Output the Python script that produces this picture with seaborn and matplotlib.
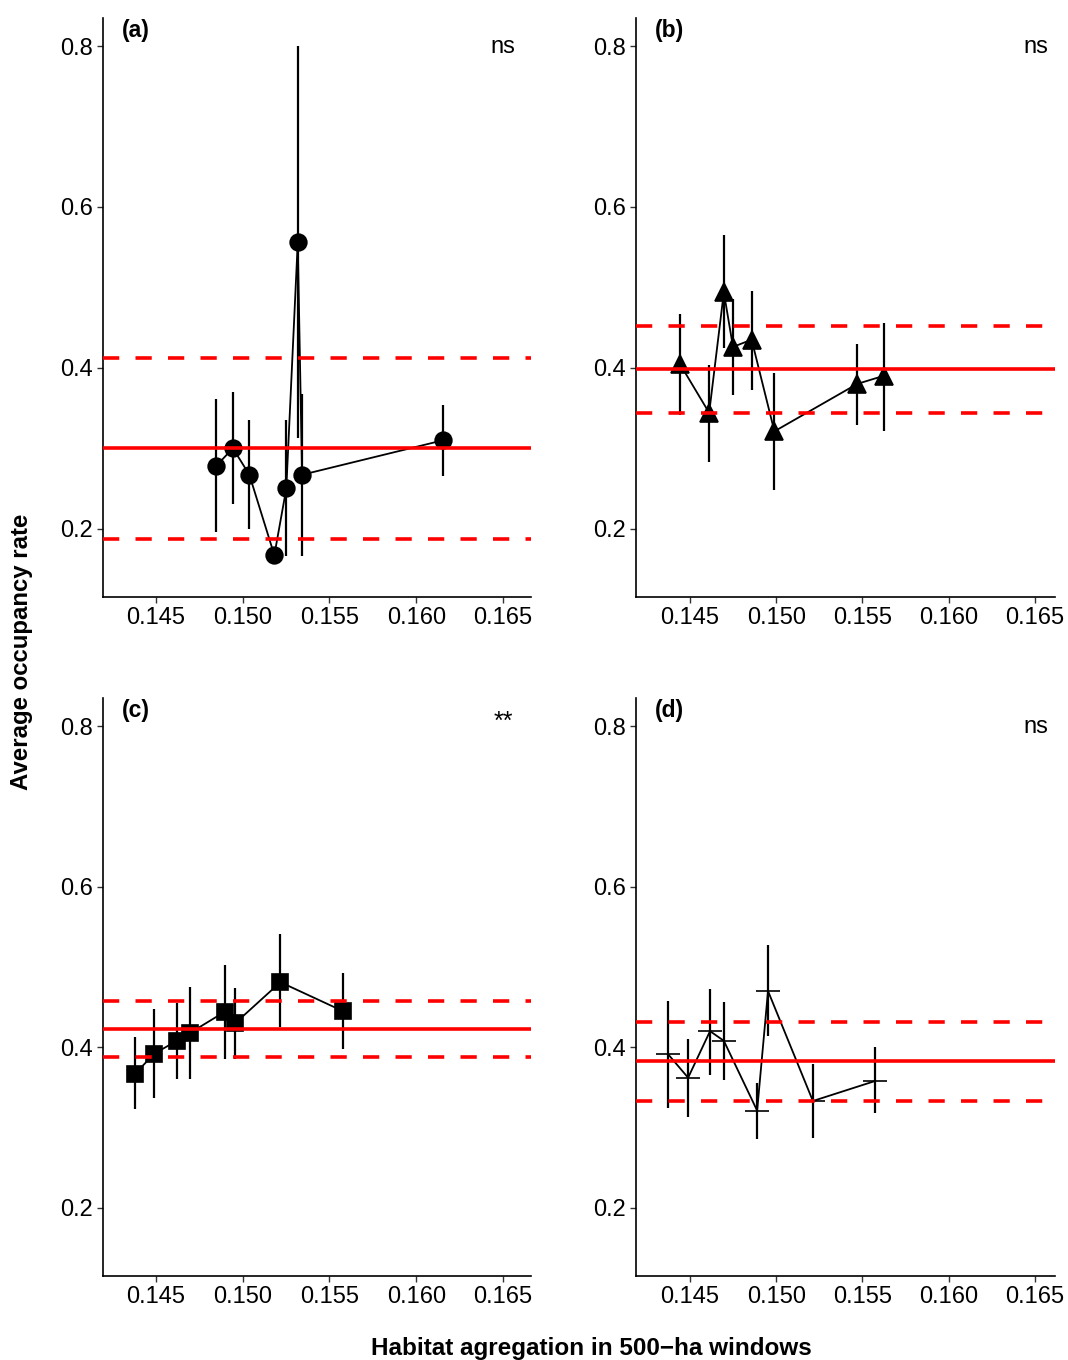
import matplotlib
matplotlib.use("Agg")
import matplotlib.pyplot as plt
import pandas as pd
import seaborn as sns

# panel (a) - circles
a_x = [0.14847, 0.14943, 0.15038, 0.15182, 0.15251, 0.15317, 0.15342, 0.16157]
a_y = [0.278, 0.300, 0.267, 0.167, 0.250, 0.556, 0.267, 0.310]
a_lo = [0.196, 0.231, 0.199, 0.160, 0.166, 0.313, 0.166, 0.266]
a_hi = [0.361, 0.370, 0.335, 0.172, 0.335, 0.800, 0.368, 0.354]
a_ref = [0.300, 0.187, 0.412]

# panel (b) - triangles
b_x = [0.14442, 0.14612, 0.14697, 0.14750, 0.14858, 0.14990, 0.15470, 0.15623]
b_y = [0.405, 0.344, 0.494, 0.426, 0.435, 0.321, 0.380, 0.390]
b_lo = [0.341, 0.283, 0.425, 0.366, 0.372, 0.248, 0.329, 0.322]
b_hi = [0.467, 0.403, 0.565, 0.485, 0.496, 0.393, 0.429, 0.456]
b_ref = [0.399, 0.344, 0.452]

# panel (c) - squares
c_x = [0.14379, 0.14490, 0.14620, 0.14697, 0.14895, 0.14957, 0.15217, 0.15577]
c_y = [0.367, 0.392, 0.408, 0.418, 0.444, 0.430, 0.481, 0.445]
c_lo = [0.323, 0.337, 0.360, 0.360, 0.385, 0.385, 0.425, 0.398]
c_hi = [0.413, 0.447, 0.455, 0.475, 0.502, 0.474, 0.541, 0.493]
c_ref = [0.423, 0.388, 0.458]

# panel (d) - plus
d_x = [0.14375, 0.14490, 0.14617, 0.14697, 0.14890, 0.14953, 0.15213, 0.15575]
d_y = [0.391, 0.362, 0.420, 0.408, 0.321, 0.470, 0.333, 0.358]
d_lo = [0.324, 0.313, 0.366, 0.359, 0.286, 0.414, 0.287, 0.318]
d_hi = [0.458, 0.410, 0.473, 0.456, 0.355, 0.527, 0.379, 0.400]
d_ref = [0.383, 0.333, 0.432]

panels = [
    ("(a)", "ns", a_x, a_y, a_lo, a_hi, a_ref, "o", 12),
    ("(b)", "ns", b_x, b_y, b_lo, b_hi, b_ref, "^", 13),
    ("(c)", "**", c_x, c_y, c_lo, c_hi, c_ref, "s", 11),
    ("(d)", "ns", d_x, d_y, d_lo, d_hi, d_ref, "+", 17),
]

sns.set_theme(style="ticks")
plt.rcParams["font.family"] = ["Liberation Sans", "DejaVu Sans"]
plt.rcParams["text.color"] = "black"
plt.rcParams["xtick.labelcolor"] = "black"
plt.rcParams["ytick.labelcolor"] = "black"

W, H = 1068, 1360
fig = plt.figure(figsize=(W / 100, H / 100), dpi=100)

# axes boxes in pixels: left, top, right, bottom
boxes = [(103, 18, 531, 597), (636, 18, 1055, 597),
         (103, 698, 531, 1276), (636, 698, 1055, 1276)]
xlims = [(0.14194, 0.16662), (0.14188, 0.16616), (0.14194, 0.16662), (0.14188, 0.16616)]
# label (x left, y centre) and significance (x right, y centre) in pixels
lab_pos = [(122, 31), (655, 31), (122, 711), (655, 711)]
sig_pos = [(515, 47), (1048, 47), (513, 722), (1048, 727)]

for (lab, sig, xs, ys, lo, hi, ref, mk, ms), (l, t, r, b), xl, lp, sp in zip(
        panels, boxes, xlims, lab_pos, sig_pos):
    ax = fig.add_axes([l / W, 1 - b / H, (r - l) / W, (b - t) / H])
    df = pd.DataFrame({"x": xs, "y": ys})
    ax.vlines(xs, lo, hi, color="black", lw=1.6, zorder=2)
    sns.lineplot(data=df, x="x", y="y", ax=ax, color="black", lw=1.3,
                 marker=mk, markersize=ms, markeredgecolor="black",
                 markeredgewidth=1.2, sort=False, zorder=3)
    ax.axhline(ref[0], color="red", lw=2.6, zorder=4)
    for v in ref[1:]:
        ax.axhline(v, color="red", lw=2.6, ls=(0, (4.5, 4.5)), zorder=4)
    ax.set_xlim(*xl)
    ax.set_ylim(0.115, 0.835)
    ax.set_xticks([0.145, 0.150, 0.155, 0.160, 0.165])
    ax.set_xticklabels(["0.145", "0.150", "0.155", "0.160", "0.165"])
    ax.set_yticks([0.2, 0.4, 0.6, 0.8])
    ax.set_yticklabels(["0.2", "0.4", "0.6", "0.8"])
    ax.tick_params(labelsize=17, length=4, width=1, color="#333333",
                   labelcolor="black", pad=3)
    ax.set_xlabel("")
    ax.set_ylabel("")
    sns.despine(ax=ax)
    for s in ["left", "bottom"]:
        ax.spines[s].set_linewidth(1.2)
        ax.spines[s].set_color("black")
    fig.text(lp[0] / W, 1 - lp[1] / H, lab, fontsize=16.5,
             fontweight="bold", va="center", ha="left")
    fig.text(sp[0] / W, 1 - sp[1] / H, sig, fontsize=18 if sig == "**" else 17,
             va="center", ha="right")

fig.text(22 / W, 1 - 652 / H, "Average occupancy rate", rotation=90,
         fontsize=17.3, fontweight="bold", ha="center", va="center")
fig.text(591 / W, 1 - 1348 / H, "Habitat agregation in 500\u2212ha windows",
         fontsize=17.5, fontweight="bold", ha="center", va="center")

fig.savefig("out.png", dpi=100, facecolor="white")
